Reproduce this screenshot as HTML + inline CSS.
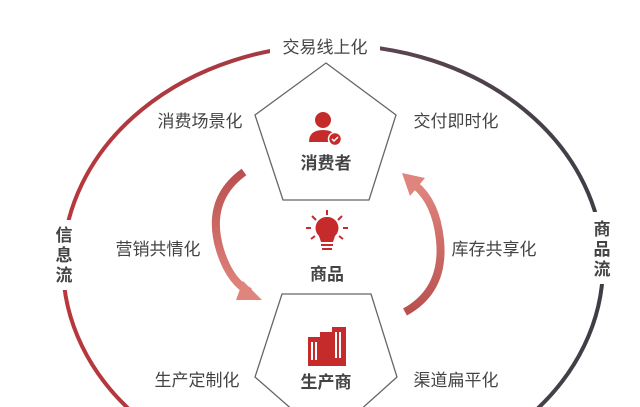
<!DOCTYPE html>
<html><head><meta charset="utf-8"><style>
html,body{margin:0;padding:0;background:#fff;width:640px;height:407px;overflow:hidden;}
svg{display:block;}
svg text{font-family:"Liberation Sans","Noto Sans CJK SC",sans-serif;}
</style></head><body>
<svg width="640" height="407" viewBox="0 0 640 407" xmlns="http://www.w3.org/2000/svg">
<defs>
<linearGradient id="g" x1="0" x2="1" y1="0" y2="0">
<stop offset="0" stop-color="#b8383c"/><stop offset="0.45" stop-color="#a03a44"/><stop offset="0.6" stop-color="#5a4550"/><stop offset="1" stop-color="#3e3e46"/>
</linearGradient>
<linearGradient id="la" x1="0" y1="0" x2="0" y2="1"><stop offset="0" stop-color="#b9504f"/><stop offset="1" stop-color="#e0857d"/></linearGradient>
<linearGradient id="ra" x1="0" y1="1" x2="0" y2="0"><stop offset="0" stop-color="#b9504f"/><stop offset="1" stop-color="#e0857d"/></linearGradient>
</defs>
<ellipse cx="333" cy="265" rx="270" ry="220" fill="none" stroke="url(#g)" stroke-width="4"/>
<rect x="270" y="33" width="110" height="26" fill="#fff"/>
<rect x="48" y="220" width="32" height="70" fill="#fff"/>
<rect x="586" y="212" width="32" height="72" fill="#fff"/>
<text x="325" y="53" font-size="17" fill="#444" text-anchor="middle">交易线上化</text>
<text x="64" y="241" font-size="17" font-weight="bold" fill="#444" text-anchor="middle">信</text>
<text x="64" y="261" font-size="17" font-weight="bold" fill="#444" text-anchor="middle">息</text>
<text x="64" y="281" font-size="17" font-weight="bold" fill="#444" text-anchor="middle">流</text>
<text x="602" y="235" font-size="17" font-weight="bold" fill="#444" text-anchor="middle">商</text>
<text x="602" y="255" font-size="17" font-weight="bold" fill="#444" text-anchor="middle">品</text>
<text x="602" y="275" font-size="17" font-weight="bold" fill="#444" text-anchor="middle">流</text>
<polygon points="326,63 396,115 369,200 283,200 255,115" fill="#fff" stroke="#666" stroke-width="1.3"/>
<polygon points="282,294 371,294 397,377 358,412 295,412 255,377" fill="#fff" stroke="#666" stroke-width="1.3"/>
<text x="200" y="127" font-size="17" fill="#444" text-anchor="middle">消费场景化</text>
<text x="456" y="127" font-size="17" fill="#444" text-anchor="middle">交付即时化</text>
<text x="158" y="255" font-size="17" fill="#444" text-anchor="middle">营销共情化</text>
<text x="494" y="255" font-size="17" fill="#444" text-anchor="middle">库存共享化</text>
<text x="197" y="386" font-size="17" fill="#444" text-anchor="middle">生产定制化</text>
<text x="456" y="386" font-size="17" fill="#444" text-anchor="middle">渠道扁平化</text>
<circle cx="323" cy="120" r="8" fill="#c62b2b"/>
<path d="M309,142 Q309,130 323,130 Q337,130 337,142 Z" fill="#c62b2b"/>
<circle cx="335" cy="139" r="6.5" fill="#c62b2b" stroke="#fff" stroke-width="1.5"/>
<path d="M332,139 l2,2 l4,-4" stroke="#fff" stroke-width="1.5" fill="none"/>
<text x="326" y="169" font-size="17" font-weight="bold" fill="#444" text-anchor="middle">消费者</text>
<g stroke="#c62b2b" stroke-width="2">
<line x1="327" y1="210" x2="327" y2="215"/><line x1="312" y1="216" x2="316" y2="220"/><line x1="342" y1="216" x2="338" y2="220"/>
<line x1="306" y1="228" x2="311" y2="228"/><line x1="343" y1="228" x2="348" y2="228"/>
<line x1="311" y1="239" x2="315" y2="236"/><line x1="343" y1="239" x2="339" y2="236"/>
</g>
<path d="M327,217 a11,11 0 0 1 8,19 l-2,6 h-12 l-2,-6 a11,11 0 0 1 8,-19z" fill="#c62b2b"/>
<rect x="321" y="244" width="12" height="2" fill="#c62b2b"/><rect x="322" y="248" width="10" height="2" fill="#c62b2b"/>
<text x="327" y="280" font-size="17" font-weight="bold" fill="#444" text-anchor="middle">商品</text>
<g fill="#c62b2b">
<rect x="308" y="337" width="13" height="29"/><rect x="320" y="332" width="14" height="34"/><rect x="332" y="327" width="14" height="39"/>
</g>
<g fill="#fff"><rect x="311" y="342" width="2" height="18"/><rect x="315" y="342" width="2" height="18"/><rect x="335" y="332" width="2" height="26"/><rect x="339" y="332" width="2" height="26"/></g>
<text x="326" y="388" font-size="17" font-weight="bold" fill="#444" text-anchor="middle">生产商</text>
<path d="M244,172 Q205,200 220,250 Q230,282 250,292" fill="none" stroke="url(#la)" stroke-width="8"/>
<polygon points="243,281 262,300 236,300" fill="#e0857d"/>
<path d="M405,312 Q445,290 440,240 Q436,202 415,185" fill="none" stroke="url(#ra)" stroke-width="8"/>
<polygon points="402,173 425,178 410,196" fill="#e0857d"/>
</svg>
</body></html>
